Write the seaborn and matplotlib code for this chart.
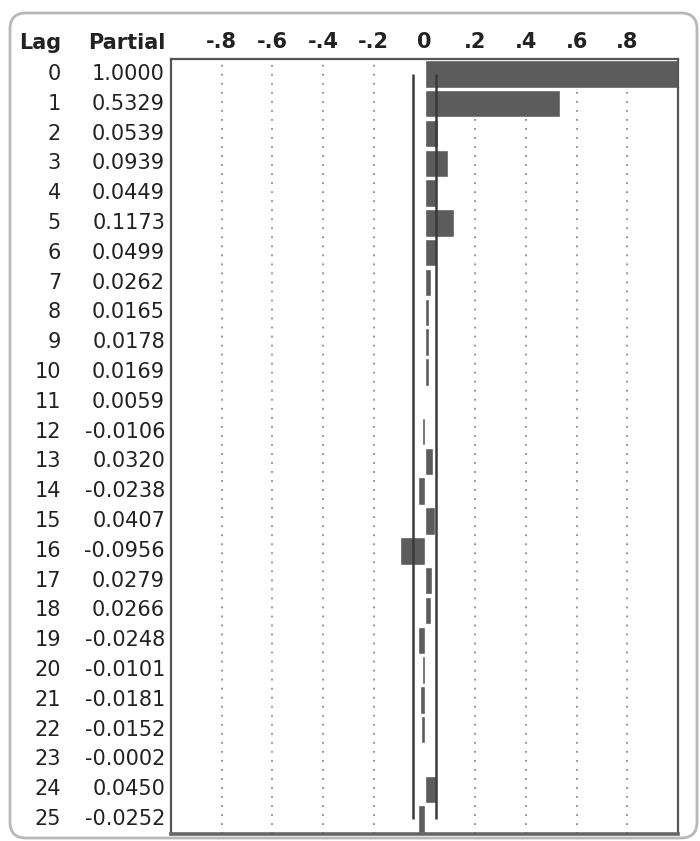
import matplotlib
matplotlib.use("Agg")
import matplotlib.pyplot as plt
import matplotlib.transforms as mtransforms
from matplotlib.patches import FancyBboxPatch
import pandas as pd
import seaborn as sns

# Partial autocorrelation by lag
lags = list(range(26))
partial = [1.0000, 0.5329, 0.0539, 0.0939, 0.0449, 0.1173, 0.0499, 0.0262,
           0.0165, 0.0178, 0.0169, 0.0059, -0.0106, 0.0320, -0.0238, 0.0407,
           -0.0956, 0.0279, 0.0266, -0.0248, -0.0101, -0.0181, -0.0152,
           -0.0002, 0.0450, -0.0252]
tick_values = [-0.8, -0.6, -0.4, -0.2, 0.0, 0.2, 0.4, 0.6, 0.8]
tick_labels = ["-.8", "-.6", "-.4", "-.2", "0", ".2", ".4", ".6", ".8"]
conf_limit = 0.0447  # approx. 2 standard errors

df = pd.DataFrame({"lag": lags, "partial": partial})

sns.set_style("white")
plt.rcParams["font.family"] = ["DejaVu Sans"]

W, H = 700, 841
fig = plt.figure(figsize=(W / 100, H / 100), dpi=100)
fig.patch.set_facecolor("white")

# rounded outer frame
frame = FancyBboxPatch((10, 3), 687, 825,
                       boxstyle="round,pad=0,rounding_size=16",
                       transform=mtransforms.IdentityTransform(),
                       facecolor="none", edgecolor="#b8b8b8", lw=2)
fig.add_artist(frame)

left, right, top, bottom = 171, 678, 59, 834
ax = fig.add_axes([left / W, 1 - bottom / H, (right - left) / W, (bottom - top) / H])

for v in tick_values:
    if v != 0:
        ax.axvline(v, color="#8a8a8a", lw=1.3, ls=(0, (1, 4)), zorder=0)

sns.barplot(data=df, x="partial", y="lag", orient="h", order=lags,
            color="#5c5c5c", saturation=1, width=0.92, errorbar=None,
            ax=ax, zorder=2)

ax.vlines([-conf_limit, conf_limit], 0, len(lags) - 1,
          colors="#3a3a3a", lw=1.8, zorder=3)

ax.set_xlim(-1.0, 1.0)
ax.set_ylim(len(lags) - 0.5, -0.5)
ax.set_xlabel("")
ax.set_ylabel("")
ax.set_yticks([])
ax.set_xticks(tick_values)
ax.set_xticklabels(tick_labels, fontsize=15, fontweight="bold", color="#222222")
ax.xaxis.tick_top()
ax.tick_params(axis="x", length=0, pad=5)

for side in ["top", "left", "right"]:
    ax.spines[side].set_color("#555555")
    ax.spines[side].set_linewidth(1.6)
ax.spines["bottom"].set_color("#666666")
ax.spines["bottom"].set_linewidth(2.6)

# table of lags and values to the left of the plot
trans = mtransforms.blended_transform_factory(fig.transFigure, ax.transData)
for lag, val in zip(lags, partial):
    ax.text(61 / W, lag, str(lag), transform=trans, ha="right", va="center",
            fontsize=15, color="#222222")
    ax.text(165 / W, lag, f"{val:.4f}", transform=trans, ha="right",
            va="center", fontsize=15, color="#222222")

fig.text(61 / W, 1 - 43 / H, "Lag", ha="right", va="center",
         fontsize=15, fontweight="bold", color="#222222")
fig.text(165 / W, 1 - 43 / H, "Partial", ha="right", va="center",
         fontsize=15, fontweight="bold", color="#222222")

fig.savefig("out.png", dpi=100)
